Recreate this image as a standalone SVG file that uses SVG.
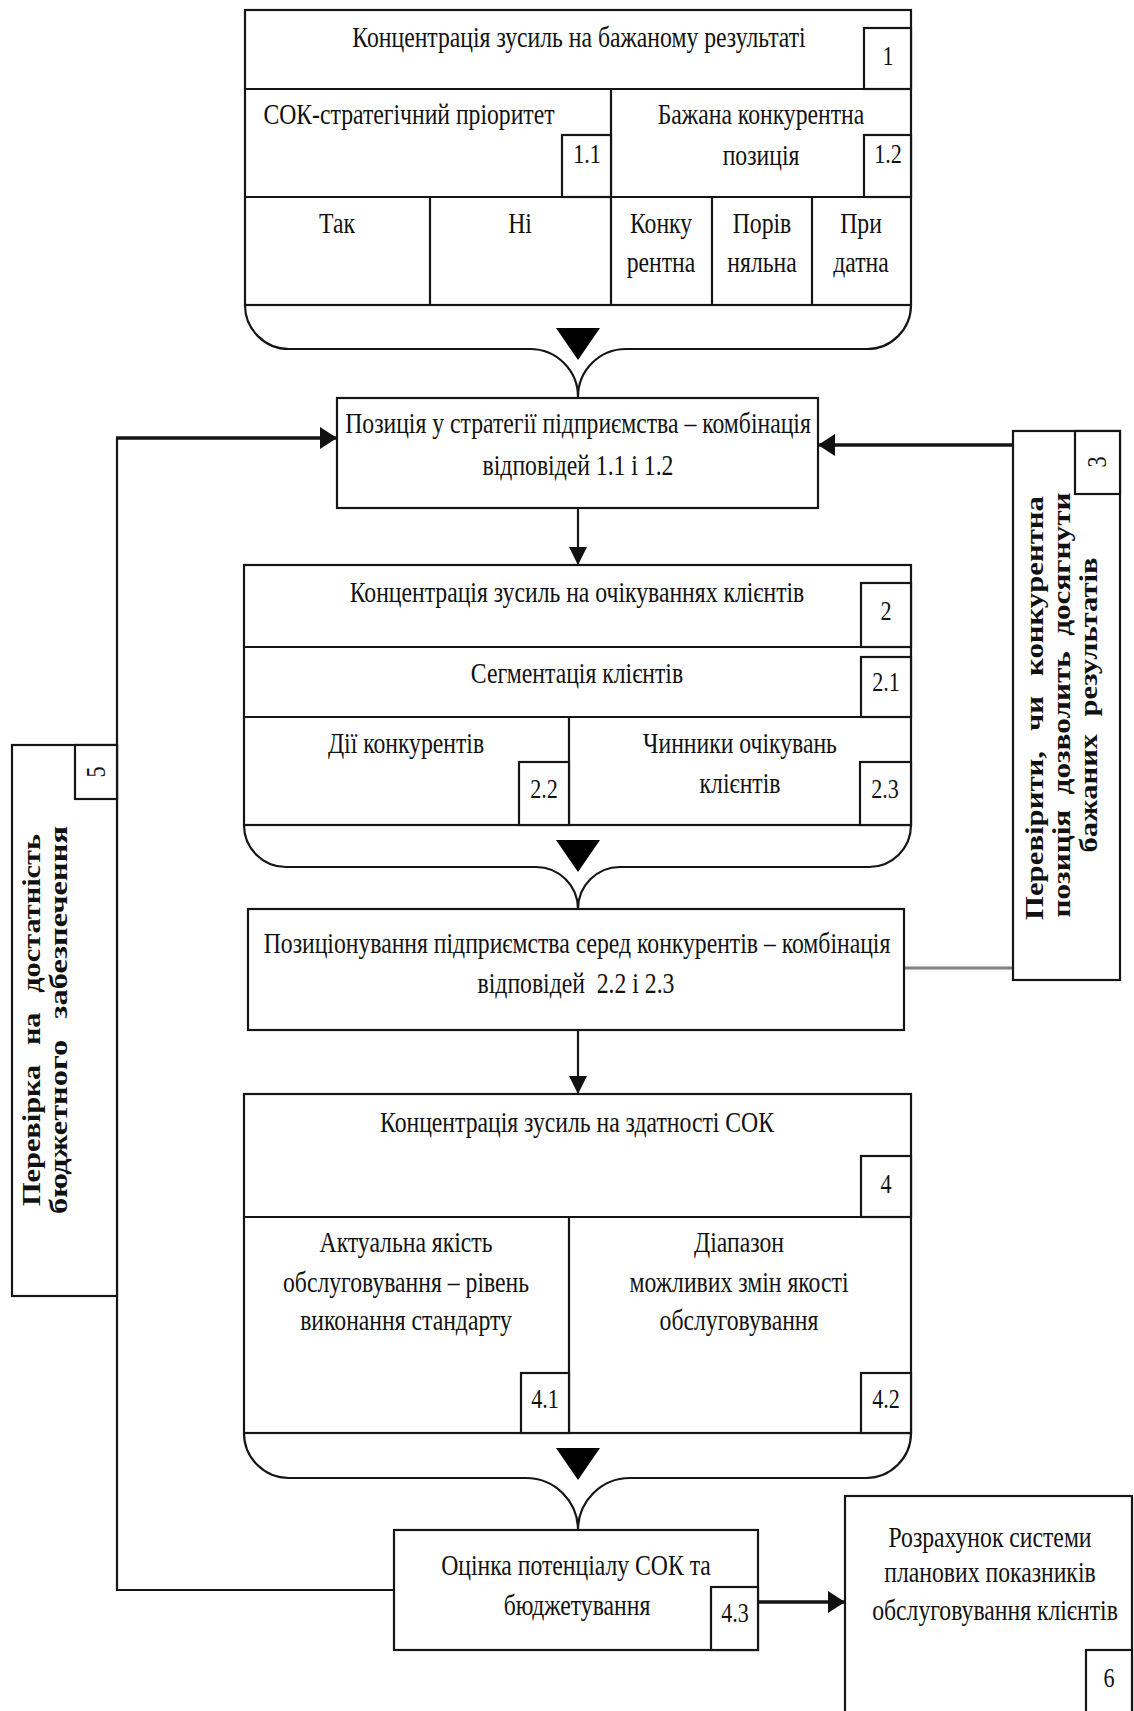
<svg xmlns="http://www.w3.org/2000/svg" width="1134" height="1711" viewBox="0 0 1134 1711">
  <defs>
    <style>
      .box{fill:#fff;stroke:#151515;stroke-width:2.2}
      .div{fill:none;stroke:#151515;stroke-width:2.2}
      .brace{fill:none;stroke:#151515;stroke-width:2.2}
      .tri{fill:#000}
      .t{font-family:"Liberation Serif","Times New Roman",serif;font-size:30px;fill:#111;text-anchor:middle}
      .n{font-family:"Liberation Serif","Times New Roman",serif;font-size:28px;fill:#111;text-anchor:middle}
      .v{font-family:"Liberation Serif","Times New Roman",serif;font-size:25px;font-weight:bold;fill:#111;text-anchor:middle}
      .thin{fill:none;stroke:#151515;stroke-width:2.2}
      .thick{fill:none;stroke:#151515;stroke-width:3.6}
      .grey{fill:none;stroke:#808080;stroke-width:3}
    </style>
    <marker id="ah" markerUnits="userSpaceOnUse" markerWidth="17" markerHeight="22" refX="17" refY="11" orient="auto">
      <path d="M0,0 L17,11 L0,22 z" fill="#111"/>
    </marker>
    <marker id="av" markerUnits="userSpaceOnUse" markerWidth="18" markerHeight="18" refX="18" refY="9" orient="auto">
      <path d="M0,0 L18,9 L0,18 z" fill="#111"/>
    </marker>
  </defs>

  <!-- connectors -->
  <g id="connectors">
    <path class="thin" d="M394,1590 H117 V438"/>
    <path class="thick" d="M116,438 H337" marker-end="url(#ah)"/>
    <path class="thick" d="M1013,445 H818" marker-end="url(#ah)"/>
    <path class="thin" d="M578,508 V565" marker-end="url(#av)"/>
    <path class="thin" d="M578,1030 V1094" marker-end="url(#av)"/>
    <path class="grey" d="M904,968 H1013"/>
    <path class="thick" d="M758,1602 H845" marker-end="url(#ah)"/>
  </g>

  <!-- block 1: desired result -->
  <g id="node-1">
    <rect class="box" x="245" y="10" width="666" height="295"/>
    <path class="div" d="M245,89 H911 M245,197 H911 M611,89 V305 M430,197 V305 M712,197 V305 M812,197 V305"/>
    <rect class="box" x="864" y="28" width="47" height="61"/>
    <rect class="box" x="562" y="135" width="49" height="62"/>
    <rect class="box" x="864" y="135" width="47" height="62"/>
    <text class="t" transform="translate(579 47) scale(.79 1)">Концентрація зусиль на бажаному результаті</text>
    <text class="n" transform="translate(888 65) scale(.79 1)">1</text>
    <text class="t" transform="translate(409 124) scale(.79 1)">СОК-стратегічний пріоритет</text>
    <text class="n" transform="translate(587 163) scale(.79 1)">1.1</text>
    <text class="t" transform="translate(761 124) scale(.79 1)">Бажана конкурентна</text>
    <text class="t" transform="translate(761 165) scale(.79 1)">позиція</text>
    <text class="n" transform="translate(888 163) scale(.79 1)">1.2</text>
    <text class="t" transform="translate(337 233) scale(.79 1)">Так</text>
    <text class="t" transform="translate(520 233) scale(.79 1)">Ні</text>
    <text class="t" transform="translate(661 233) scale(.79 1)">Конку</text>
    <text class="t" transform="translate(661 272) scale(.79 1)">рентна</text>
    <text class="t" transform="translate(762 233) scale(.79 1)">Порів</text>
    <text class="t" transform="translate(762 272) scale(.79 1)">няльна</text>
    <text class="t" transform="translate(861 233) scale(.79 1)">При</text>
    <text class="t" transform="translate(861 272) scale(.79 1)">датна</text>
    <path class="brace" d="M245,305 A44,44 0 0 0 289,349 H530 A48,48 0 0 1 578,397 A48,48 0 0 1 626,349 H867 A44,44 0 0 0 911,305"/>
    <polygon class="tri" points="556,328 600,328 578,360"/>
  </g>

  <!-- strategy position -->
  <g id="node-position">
    <rect class="box" x="337" y="398" width="481" height="110"/>
    <text class="t" transform="translate(578 433) scale(.79 1)">Позиція у стратегії підприємства – комбінація</text>
    <text class="t" transform="translate(578 475) scale(.79 1)">відповідей 1.1 і 1.2</text>
  </g>

  <!-- block 2: customer expectations -->
  <g id="node-2">
    <rect class="box" x="244" y="565" width="667" height="260"/>
    <path class="div" d="M244,647 H911 M244,717 H911 M569,717 V825"/>
    <rect class="box" x="861" y="583" width="50" height="64"/>
    <rect class="box" x="861" y="657" width="50" height="60"/>
    <rect class="box" x="519" y="762" width="50" height="63"/>
    <rect class="box" x="860" y="762" width="51" height="63"/>
    <text class="t" transform="translate(577 602) scale(.79 1)">Концентрація зусиль на очікуваннях клієнтів</text>
    <text class="n" transform="translate(886 620) scale(.79 1)">2</text>
    <text class="t" transform="translate(577 683) scale(.79 1)">Сегментація клієнтів</text>
    <text class="n" transform="translate(886 691) scale(.79 1)">2.1</text>
    <text class="t" transform="translate(406 753) scale(.79 1)">Дії конкурентів</text>
    <text class="n" transform="translate(544 798) scale(.79 1)">2.2</text>
    <text class="t" transform="translate(740 753) scale(.79 1)">Чинники очікувань</text>
    <text class="t" transform="translate(740 793) scale(.79 1)">клієнтів</text>
    <text class="n" transform="translate(885 798) scale(.79 1)">2.3</text>
    <path class="brace" d="M244,825 A42,42 0 0 0 286,867 H536 A42,42 0 0 1 578,909 A42,42 0 0 1 620,867 H869 A42,42 0 0 0 911,825"/>
    <polygon class="tri" points="556,840 600,840 578,872"/>
  </g>

  <!-- positioning among competitors -->
  <g id="node-positioning">
    <rect class="box" x="248" y="909" width="656" height="121"/>
    <text class="t" transform="translate(577 953) scale(.79 1)">Позиціонування підприємства серед конкурентів – комбінація</text>
    <text class="t" transform="translate(576 993) scale(.79 1)" style="white-space:pre">відповідей  2.2 і 2.3</text>
  </g>

  <!-- block 3: check of the position -->
  <g id="node-3">
    <rect class="box" x="1013" y="431" width="107" height="549"/>
    <rect class="box" x="1075" y="431" width="45" height="63"/>
    <text class="n" transform="translate(1106 462) rotate(-90) scale(.79 1)">3</text>
    <text class="v" transform="translate(1043 708) rotate(-90)" style="word-spacing:10px" textLength="424" lengthAdjust="spacingAndGlyphs">Перевірити, чи конкурентна</text>
    <text class="v" transform="translate(1070 705) rotate(-90)" style="word-spacing:6px" textLength="425" lengthAdjust="spacingAndGlyphs">позиція дозволить досягнути</text>
    <text class="v" transform="translate(1097 705) rotate(-90)" style="word-spacing:8px" textLength="295" lengthAdjust="spacingAndGlyphs">бажаних результатів</text>
  </g>

  <!-- block 4: service capability -->
  <g id="node-4">
    <rect class="box" x="244" y="1094" width="667" height="339"/>
    <path class="div" d="M244,1217 H911 M569,1217 V1433"/>
    <rect class="box" x="861" y="1156" width="50" height="61"/>
    <rect class="box" x="521" y="1373" width="48" height="60"/>
    <rect class="box" x="861" y="1373" width="50" height="60"/>
    <text class="t" transform="translate(577 1132) scale(.79 1)">Концентрація зусиль на здатності СОК</text>
    <text class="n" transform="translate(886 1193) scale(.79 1)">4</text>
    <text class="t" transform="translate(406 1252) scale(.79 1)">Актуальна якість</text>
    <text class="t" transform="translate(406 1292) scale(.79 1)">обслуговування – рівень</text>
    <text class="t" transform="translate(406 1330) scale(.79 1)">виконання стандарту</text>
    <text class="t" transform="translate(739 1252) scale(.79 1)">Діапазон</text>
    <text class="t" transform="translate(739 1292) scale(.79 1)">можливих змін якості</text>
    <text class="t" transform="translate(739 1330) scale(.79 1)">обслуговування</text>
    <text class="n" transform="translate(545 1408) scale(.79 1)">4.1</text>
    <text class="n" transform="translate(886 1408) scale(.79 1)">4.2</text>
    <path class="brace" d="M244,1433 A45,45 0 0 0 289,1478 H526 A52,52 0 0 1 578,1530 A52,52 0 0 1 630,1478 H866 A45,45 0 0 0 911,1433"/>
    <polygon class="tri" points="556,1448 600,1448 578,1480"/>
  </g>

  <!-- potential assessment and budgeting -->
  <g id="node-4-3">
    <rect class="box" x="394" y="1530" width="364" height="120"/>
    <rect class="box" x="711" y="1587" width="47" height="63"/>
    <text class="t" transform="translate(576 1575) scale(.79 1)">Оцінка потенціалу СОК та</text>
    <text class="t" transform="translate(577 1615) scale(.79 1)">бюджетування</text>
    <text class="n" transform="translate(735 1622) scale(.79 1)">4.3</text>
  </g>

  <!-- block 5: budget check -->
  <g id="node-5">
    <rect class="box" x="12" y="745" width="105" height="551"/>
    <rect class="box" x="75" y="745" width="42" height="54"/>
    <text class="n" transform="translate(105 772) rotate(-90) scale(.79 1)">5</text>
    <text class="v" transform="translate(40 1020) rotate(-90)" style="word-spacing:10px" textLength="372" lengthAdjust="spacingAndGlyphs">Перевірка на достатність</text>
    <text class="v" transform="translate(67 1020) rotate(-90)" style="word-spacing:10px" textLength="388" lengthAdjust="spacingAndGlyphs">бюджетного забезпечення</text>
  </g>

  <!-- block 6: planned service indicators -->
  <g id="node-6">
    <rect class="box" x="845" y="1496" width="287" height="222"/>
    <rect class="box" x="1086" y="1650" width="46" height="68"/>
    <text class="t" transform="translate(990 1547) scale(.79 1)">Розрахунок системи</text>
    <text class="t" transform="translate(990 1582) scale(.79 1)">планових показників</text>
    <text class="t" transform="translate(995 1620) scale(.79 1)">обслуговування клієнтів</text>
    <text class="n" transform="translate(1109 1687) scale(.79 1)">6</text>
  </g>
</svg>
